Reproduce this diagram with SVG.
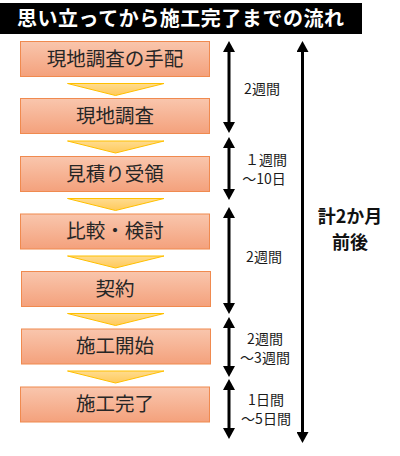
<svg xmlns="http://www.w3.org/2000/svg" width="400" height="456" viewBox="0 0 400 456">
<defs>
<linearGradient id="boxg" x1="0" y1="0" x2="0" y2="1">
<stop offset="0" stop-color="#f9c6ad"/>
<stop offset="1" stop-color="#f4a17c"/>
</linearGradient>
<linearGradient id="trig" x1="0" y1="0" x2="0" y2="1">
<stop offset="0" stop-color="#ffdc8f"/>
<stop offset="1" stop-color="#ffc95a"/>
</linearGradient>
<marker id="ah" viewBox="0 0 11 12" refX="0" refY="6" markerWidth="11" markerHeight="12" markerUnits="userSpaceOnUse" orient="auto-start-reverse">
<path d="M0,0 L11,6 L0,12 Z" fill="#000"/>
</marker>
</defs>
<style>
.box{fill:url(#boxg);stroke:#f08a4f;stroke-width:1}
.tri{fill:url(#trig);stroke:#ffc000;stroke-width:1}
.lbl{font-family:"Noto Sans CJK JP","Noto Sans",sans-serif;font-size:19.5px;fill:#262626;text-anchor:middle}
.dur{font-family:"Noto Sans CJK JP","Noto Sans",sans-serif;font-size:14px;fill:#1a1a1a;text-anchor:middle}
.big{font-family:"Noto Sans CJK JP","Noto Sans",sans-serif;font-size:18px;font-weight:bold;fill:#111;text-anchor:middle}
.ttl{font-family:"Noto Sans CJK JP","Noto Sans",sans-serif;font-size:20px;font-weight:bold;fill:#fff}
.ar{stroke:#000;stroke-width:3;fill:none;marker-start:url(#ah);marker-end:url(#ah)}
</style>
<g id="title">
<rect x="0" y="3" width="362" height="31" fill="#000"/>
<text class="ttl" x="17" y="25.5" textLength="327">思い立ってから施工完了までの流れ</text>
</g>
<g id="chevrons">
<polygon class="tri" points="67.5,83.5 164,83.5 115.5,95.5"/>
<polygon class="tri" points="67.5,141 164,141 115.5,153"/>
<polygon class="tri" points="67.5,198.5 164,198.5 115.5,210.5"/>
<polygon class="tri" points="67.5,256 164,256 115.5,268"/>
<polygon class="tri" points="67.5,313.5 164,313.5 115.5,325.5"/>
<polygon class="tri" points="67.5,371 164,371 115.5,383"/>
</g>
<g id="n1"><rect class="box" x="20.5" y="41.5" width="189" height="35"/><text class="lbl" x="115" y="65.8">現地調査の手配</text></g>
<g id="n2"><rect class="box" x="20.5" y="98.5" width="189" height="35"/><text class="lbl" x="115" y="122.8">現地調査</text></g>
<g id="n3"><rect class="box" x="20.5" y="156.5" width="189" height="35"/><text class="lbl" x="115" y="180.8">見積り受領</text></g>
<g id="n4"><rect class="box" x="20.5" y="214" width="189" height="35"/><text class="lbl" x="115" y="238.3">比較・検討</text></g>
<g id="n5"><rect class="box" x="21.5" y="271.5" width="189" height="35"/><text class="lbl" x="115" y="295.8">契約</text></g>
<g id="n6"><rect class="box" x="21.5" y="329" width="189" height="35"/><text class="lbl" x="115" y="353.3">施工開始</text></g>
<g id="n7"><rect class="box" x="20.5" y="387" width="189" height="35"/><text class="lbl" x="115" y="411.3">施工完了</text></g>
<g id="connectors">
<line class="ar" x1="229" y1="52" x2="229" y2="122"/>
<line class="ar" x1="229" y1="148" x2="229" y2="189"/>
<line class="ar" x1="229" y1="218" x2="229" y2="303"/>
<line class="ar" x1="229" y1="328" x2="229" y2="366"/>
<line class="ar" x1="229" y1="390" x2="229" y2="428"/>
<line class="ar" x1="302.5" y1="52" x2="302.5" y2="432"/>
</g>
<g id="durations">
<text class="dur" x="262" y="93.5">2週間</text>
<text class="dur" x="266" y="164.5">１週間</text>
<text class="dur" x="264" y="183.5">～10日</text>
<text class="dur" x="264" y="262">2週間</text>
<text class="dur" x="265" y="343.5">2週間</text>
<text class="dur" x="265" y="362.5">～3週間</text>
<text class="dur" x="266" y="404.5">1日間</text>
<text class="dur" x="266" y="423.5">～5日間</text>
</g>
<g id="total">
<text class="big" x="350" y="223">計2か月</text>
<text class="big" x="350" y="249">前後</text>
</g>
</svg>
